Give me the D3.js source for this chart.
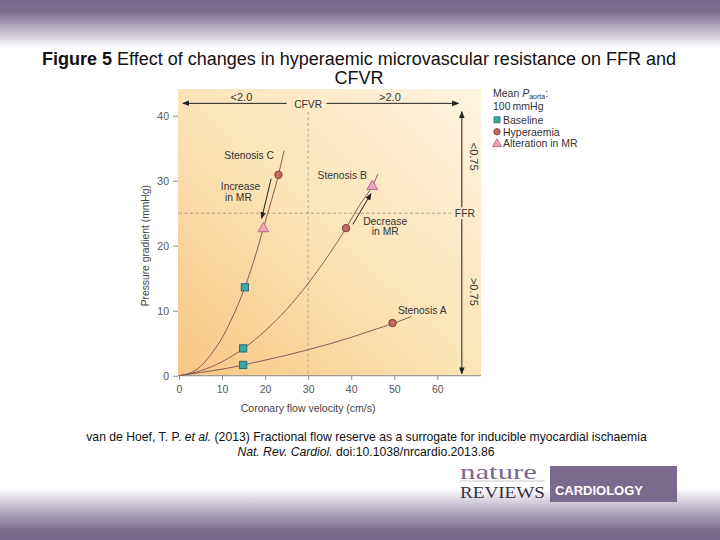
<!DOCTYPE html>
<html><head><meta charset="utf-8">
<script src="https://cdn.jsdelivr.net/npm/d3@7"></script>
<style>body{margin:0;background:#fff} svg{display:block;font-family:"Liberation Sans",Arial,sans-serif}</style>
</head><body><svg id="c" width="720" height="540"></svg>
<script>
// ---- data ----
const xTicks = [0, 10, 20, 30, 40, 50, 60];
const yTicks = [0, 10, 20, 30, 40];
const curveA = [[0,0],[5,0.5],[10,1.0],[15,1.65],[20,2.4],[25,3.15],[30,4.0],[35,4.9],[40,5.9],[45,7.0],[50,8.1],[54,9.1]];
const curveB = [[0,0],[5,0.75],[10,2.15],[15,4.2],[20,6.9],[25,10.2],[30,14.2],[35,18.8],[38.8,22.7],[42,26.3],[45,29.3],[46.2,31.0]];
const curveC = [[0,0],[4,0.9],[6,2.1],[8,3.8],[10,5.8],[12,8.4],[15.3,13.6],[18,19.0],[19.6,22.7],[21.5,27.0],[23.1,30.9],[24.4,34.6]];
const baseline   = [[14.9,1.65],[14.9,4.2],[15.3,13.6]];
const hyperaemia = [[49.6,8.1],[38.8,22.7],[23.1,30.9]];
const alteration = [[44.9,29.2],[19.6,22.7]];
const stenosisNames = ["Stenosis A","Stenosis B","Stenosis C"];
const stenosisLabelPos = [[56.5,10.1],[37.9,30.8],[16.3,33.95]];
const ffrThreshold = 25;
const cfvrThreshold = 30;
const legendItems = ["Baseline","Hyperaemia","Alteration in MR"];

// ---- layout ----
const svg = d3.select("#c");
const x = d3.scaleLinear().domain([0,60]).range([179,437.3]);
const y = d3.scaleLinear().domain([0,40]).range([375.7,115.7]);
const defs = svg.append("defs");
const FS = 10.3;

// page background bands
const gTop = defs.append("linearGradient").attr("id","gTop").attr("x1",0).attr("y1",0).attr("x2",0).attr("y2",1);
gTop.append("stop").attr("offset","0%").attr("stop-color","#77678c");
gTop.append("stop").attr("offset","25%").attr("stop-color","#7d6d91");
gTop.append("stop").attr("offset","100%").attr("stop-color","#ffffff");
const gBot = defs.append("linearGradient").attr("id","gBot").attr("x1",0).attr("y1",0).attr("x2",0).attr("y2",1);
gBot.append("stop").attr("offset","0%").attr("stop-color","#ffffff");
gBot.append("stop").attr("offset","80%").attr("stop-color","#7d6d91");
gBot.append("stop").attr("offset","100%").attr("stop-color","#77678c");
svg.append("rect").attr("x",0).attr("y",0).attr("width",720).attr("height",48).attr("fill","url(#gTop)");
svg.append("rect").attr("x",0).attr("y",488).attr("width",720).attr("height",52).attr("fill","url(#gBot)");

// panel gradient
const gPan = defs.append("linearGradient").attr("id","gPan").attr("x1",0).attr("y1",1).attr("x2",1).attr("y2",0);
gPan.append("stop").attr("offset","0%").attr("stop-color","#f8c684");
gPan.append("stop").attr("offset","50%").attr("stop-color","#fce4b8");
gPan.append("stop").attr("offset","100%").attr("stop-color","#fef4df");
svg.append("rect").attr("x",178).attr("y",89).attr("width",303).attr("height",y(0)-89).attr("fill","url(#gPan)");

// markers
defs.append("marker").attr("id","ah").attr("viewBox","0 0 10 10").attr("refX",9).attr("refY",5)
  .attr("markerWidth",7).attr("markerHeight",7).attr("orient","auto").attr("markerUnits","userSpaceOnUse")
  .append("path").attr("d","M0,1 L10,5 L0,9 Z").attr("fill","#222");

// title
const title = svg.append("text").attr("x",359).attr("y",64.5).attr("text-anchor","middle").attr("font-size",18).attr("fill","#111");
title.append("tspan").attr("font-weight","bold").text("Figure 5");
title.append("tspan").text(" Effect of changes in hyperaemic microvascular resistance on FFR and");
svg.append("text").attr("x",359).attr("y",84).attr("text-anchor","middle").attr("font-size",18).attr("fill","#111").text("CFVR");

// axes
const ax = svg.append("g").attr("transform",`translate(0,${y(0)})`)
  .call(d3.axisBottom(x).tickValues(xTicks).tickSize(4).tickPadding(6));
ax.select(".domain").attr("stroke","#8a8a8a").attr("d",`M178,0H481`);
ax.selectAll(".tick line").attr("stroke","#8a8a8a");
ax.selectAll("text").attr("font-size",10.5).attr("fill","#555").attr("font-family","Liberation Sans, Arial, sans-serif");
const ay = svg.append("g").attr("transform",`translate(178,0)`)
  .call(d3.axisLeft(y).tickValues(yTicks).tickSize(5).tickPadding(4));
ay.select(".domain").remove();
ay.selectAll(".tick line").attr("stroke","#8a8a8a");
ay.selectAll("text").attr("font-size",10.5).attr("fill","#555").attr("font-family","Liberation Sans, Arial, sans-serif");

svg.append("text").attr("x",x(30)).attr("y",412).attr("text-anchor","middle").attr("font-size",10.5).attr("fill","#444").text("Coronary flow velocity (cm/s)");
svg.append("text").attr("transform",`translate(149,${y(20)}) rotate(-90)`).attr("text-anchor","middle").attr("font-size",10.3).attr("fill","#444").text("Pressure gradient (mmHg)");

// threshold lines
svg.append("line").attr("x1",x(0)).attr("x2",x(63.2)).attr("y1",y(ffrThreshold)).attr("y2",y(ffrThreshold))
  .attr("stroke","#9a9080").attr("stroke-width",0.8).attr("stroke-dasharray","3,2.5");
svg.append("line").attr("x1",x(cfvrThreshold)).attr("x2",x(cfvrThreshold)).attr("y1",y(40.6)).attr("y2",y(0))
  .attr("stroke","#9a9080").attr("stroke-width",0.8).attr("stroke-dasharray","3,2.5");

// CFVR arrows
const arrow = (x1,y1,x2,y2) => svg.append("line").attr("x1",x(x1)).attr("y1",y(y1)).attr("x2",x(x2)).attr("y2",y(y2))
  .attr("stroke","#222").attr("stroke-width",1).attr("marker-end","url(#ah)");
const label = (t,vx,vy,fs) => svg.append("text").attr("x",x(vx)).attr("y",y(vy)+(fs||FS)*0.36)
  .attr("text-anchor","middle").attr("font-size",fs||FS).attr("fill","#333").text(t);
arrow(25.0,41.9,0.9,41.9);
arrow(34.3,41.9,64.9,41.9);
label("CFVR",30,41.8);
label("<2.0",14.5,42.8,11);
label(">2.0",49.0,42.8,11);

// FFR arrows
arrow(65.7,25.9,65.7,40.6);
arrow(65.7,24.1,65.7,0.3);
label("FFR",66.4,ffrThreshold);
svg.append("text").attr("transform",`translate(${x(67.7)},${y(33.7)}) rotate(90)`).attr("text-anchor","middle").attr("font-size",11).attr("fill","#333").text("<0.75");
svg.append("text").attr("transform",`translate(${x(67.7)},${y(12.9)}) rotate(90)`).attr("text-anchor","middle").attr("font-size",11).attr("fill","#333").text(">0.75");

// curves
const line = d3.line().x(d=>x(d[0])).y(d=>y(d[1])).curve(d3.curveMonotoneX);
[curveA,curveB,curveC].forEach(c=>{
  svg.append("path").attr("d",line(c)).attr("fill","none").attr("stroke","#8c5a5e").attr("stroke-width",1);
});
stenosisNames.forEach((n,i)=>label(n,stenosisLabelPos[i][0],stenosisLabelPos[i][1]));

// MR arrows
arrow(21.4,30.3,19.2,24.2);
arrow(40.4,23.3,44.6,28.0);
label("Increase",14.3,29.1);
label("in MR",13.8,27.4);
label("Decrease",47.9,23.8);
label("in MR",47.9,22.2);

// points
const sqCol="#3aa7a8", sqStroke="#2c6c70", ciCol="#c56a5e", ciStroke="#7d3b38", trCol="#eda3bd", trStroke="#a8607a";
svg.selectAll(".sq").data(baseline).enter().append("rect")
  .attr("x",d=>x(d[0])-3.6).attr("y",d=>y(d[1])-3.6).attr("width",7.2).attr("height",7.2)
  .attr("fill",sqCol).attr("stroke",sqStroke).attr("stroke-width",1);
svg.selectAll(".ci").data(hyperaemia).enter().append("circle")
  .attr("cx",d=>x(d[0])).attr("cy",d=>y(d[1])).attr("r",3.7)
  .attr("fill",ciCol).attr("stroke",ciStroke).attr("stroke-width",1);
const tri = d3.symbol().type(d3.symbolTriangle).size(50);
svg.selectAll(".tr").data(alteration).enter().append("path")
  .attr("transform",d=>`translate(${x(d[0])},${y(d[1])+0.5})`).attr("d",tri)
  .attr("fill",trCol).attr("stroke",trStroke).attr("stroke-width",0.8);

// legend
const lg = svg.append("g").attr("font-size",10.5).attr("fill","#333");
const t1 = lg.append("text").attr("x",493).attr("y",97.3);
t1.append("tspan").text("Mean ");
t1.append("tspan").attr("font-style","italic").text("P");
t1.append("tspan").attr("font-size",7).attr("dy",1.5).text("aorta");
t1.append("tspan").attr("dy",-1.5).text(":");
lg.append("text").attr("x",493).attr("y",110).text("100\u2009mmHg");
const ly = [119.8,131.8,143.5];
lg.append("rect").attr("x",494).attr("y",ly[0]-3).attr("width",6).attr("height",6).attr("fill",sqCol).attr("stroke",sqStroke).attr("stroke-width",0.8);
lg.append("circle").attr("cx",497).attr("cy",ly[1]).attr("r",3.2).attr("fill",ciCol).attr("stroke",ciStroke).attr("stroke-width",0.8);
lg.append("path").attr("transform",`translate(497,${ly[2]+0.5})`).attr("d",d3.symbol().type(d3.symbolTriangle).size(36)).attr("fill",trCol).attr("stroke",trStroke).attr("stroke-width",0.8);
legendItems.forEach((t,i)=>lg.append("text").attr("x",503).attr("y",ly[i]+3.8).text(t));

// caption
const c1 = svg.append("text").attr("x",366.5).attr("y",441).attr("text-anchor","middle").attr("font-size",12.2).attr("fill","#111");
c1.append("tspan").text("van de Hoef, T. P. ");
c1.append("tspan").attr("font-style","italic").text("et al.");
c1.append("tspan").text(" (2013) Fractional flow reserve as a surrogate for inducible myocardial ischaemia");
const c2 = svg.append("text").attr("x",366).attr("y",456).attr("text-anchor","middle").attr("font-size",12.2).attr("fill","#111");
c2.append("tspan").attr("font-style","italic").text("Nat. Rev. Cardiol.");
c2.append("tspan").text(" doi:10.1038/nrcardio.2013.86");

// logo
svg.append("text").attr("x",460).attr("y",478.5).attr("font-family","Liberation Serif, Times New Roman, serif").attr("font-size",22).attr("fill","#7a6a8e").attr("textLength",77).attr("lengthAdjust","spacingAndGlyphs").text("nature");
svg.append("line").attr("x1",460).attr("x2",545).attr("y1",481).attr("y2",481).attr("stroke","#aaa").attr("stroke-width",0.6);
svg.append("text").attr("x",460).attr("y",498).attr("font-family","Liberation Serif, Times New Roman, serif").attr("font-size",17).attr("fill","#3a3040").attr("textLength",85).attr("lengthAdjust","spacingAndGlyphs").text("REVIEWS");
svg.append("rect").attr("x",550).attr("y",466).attr("width",127).attr("height",36).attr("fill","#7a6a8e");
svg.append("text").attr("x",555).attr("y",495).attr("font-size",13).attr("font-weight","bold").attr("fill","#fff").attr("textLength",88).text("CARDIOLOGY");
</script></body></html>
